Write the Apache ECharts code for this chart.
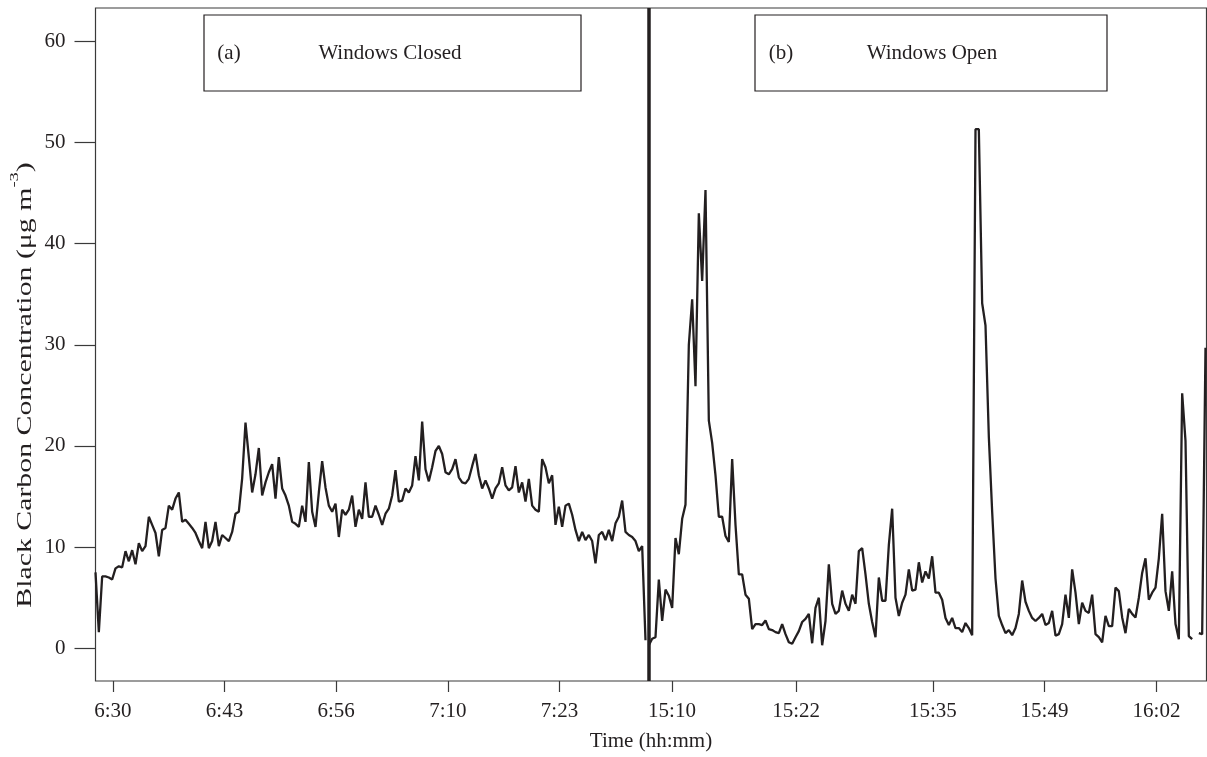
<!DOCTYPE html>
<html>
<head>
<meta charset="utf-8">
<script src="https://cdn.jsdelivr.net/npm/echarts@6/dist/echarts.min.js"></script>
<style>
html,body{margin:0;padding:0;background:#fff;}
#chart{width:1207px;height:757px;}
</style>
</head>
<body>
<div id="chart"></div>
<script>
// Black carbon concentration (µg m-3), one value per sample
const closedBC = [
7.5,1.6,7.1,7.1,7.0,6.8,7.9,8.1,8.0,9.6,
8.6,9.7,8.3,10.4,9.6,10.1,13.0,12.2,11.4,9.1,
11.7,11.9,14.1,13.7,14.8,15.4,12.5,12.7,12.3,11.9,
11.4,10.6,9.9,12.5,9.9,10.6,12.5,10.1,11.2,10.9,
10.6,11.5,13.3,13.5,16.8,22.3,18.9,15.4,17.2,19.8,
15.1,16.4,17.4,18.2,14.8,18.9,15.8,15.1,14.1,12.5,
12.3,12.0,14.1,12.5,18.4,13.5,12.0,15.4,18.5,15.9,
14.1,13.5,14.3,11.0,13.7,13.2,13.7,15.1,12.0,13.7,
12.8,16.4,13.0,13.0,14.1,13.2,12.2,13.3,13.8,15.1,
17.6,14.5,14.6,15.8,15.4,16.1,19.0,16.6,22.4,17.7,
16.5,17.9,19.5,20.0,19.2,17.4,17.2,17.7,18.7,16.9,
16.4,16.3,16.75,18.0,19.2,17.1,15.8,16.6,15.8,14.8,
15.8,16.3,17.9,16.1,15.6,15.9,18.0,15.4,16.4,14.5,
16.75,14.1,13.7,13.5,18.7,17.9,16.3,17.1,12.2,14.0,
12.0,14.1,14.3,13.2,11.7,10.6,11.5,10.7,11.2,10.6,
8.4,11.2,11.5,10.7,11.7,10.6,12.35,13.0,14.6,11.5,
11.2,11.0,10.6,9.6,10.1,0.8
];
const openBC = [
0.3,0.95,1.1,6.8,2.7,5.8,5.2,4.0,10.9,9.3,
12.8,14.2,30.0,34.5,25.9,43.0,36.3,45.3,22.5,20.3,
17.1,13.0,13.0,11.1,10.5,18.7,12.2,7.3,7.3,5.3,
4.9,1.9,2.4,2.4,2.3,2.75,1.9,1.8,1.6,1.5,
2.4,1.4,0.6,0.45,1.1,1.7,2.6,2.9,3.4,0.5,
4.0,5.0,0.3,2.7,8.3,4.4,3.4,3.7,5.7,4.4,
3.7,5.3,4.4,9.6,9.9,7.3,4.4,2.6,1.1,7.0,
4.7,4.7,10.2,13.8,5.0,3.2,4.5,5.3,7.8,5.7,
5.8,8.5,6.5,7.6,6.9,9.1,5.5,5.5,4.8,3.0,
2.3,3.0,2.0,2.0,1.6,2.5,2.0,1.3,51.3,51.3,
34.1,31.9,20.9,13.5,6.9,3.2,2.3,1.5,1.8,1.3,
2.0,3.4,6.7,4.6,3.7,3.0,2.7,3.0,3.4,2.3,
2.5,3.7,1.25,1.4,2.4,5.3,3.0,7.8,5.5,2.4,
4.5,3.7,3.5,5.3,1.4,1.1,0.6,3.2,2.2,2.2,
6.0,5.65,3.05,1.5,3.9,3.4,3.05,5.0,7.45,8.9,
4.8,5.5,6.0,8.9,13.3,5.65,3.7,7.6,2.4,0.9,
25.2,20.5,1.2,0.9,null,1.5,1.4,29.7
];
const openStart = closedBC.length;           // first sample index of panel (b)
const panelBreak = 165.9;                      // sample position of the divider
// x tick positions (sample index) and labels
const xTickPos = [5.2, 38.7, 72.2, 105.7, 139.2, 172.95, 210.2, 251.2, 284.7, 318.3];
const xTickLabels = ['6:30','6:43','6:56','7:10','7:23','15:10','15:22','15:35','15:49','16:02'];
const yTicks = [0, 10, 20, 30, 40, 50, 60];

const FONT = '"Liberation Serif", "Times New Roman", serif';
const INK = '#231f20';

const chart = echarts.init(document.getElementById('chart'), null, {renderer: 'canvas'});
chart.setOption({
  animation: false,
  backgroundColor: '#fff',
  grid: {left: 95.5, right: 0.5, top: 8, bottom: 69.5, show: true, borderColor: '#3a3a3a', borderWidth: 1.2, backgroundColor: 'transparent'},
  xAxis: {
    type: 'value', min: 0, max: 333.3,
    name: 'Time (hh:mm)', nameLocation: 'middle', nameGap: 50,
    nameTextStyle: {fontFamily: FONT, fontSize: 21, color: INK},
    axisLine: {show: false, onZero: false},
    splitLine: {show: false},
    axisTick: {show: true, inside: false, length: 11, customValues: xTickPos, lineStyle: {color: '#3a3a3a', width: 1.2}},
    axisLabel: {
      show: true, margin: 20, customValues: xTickPos,
      fontFamily: FONT, fontSize: 21, color: INK,
      formatter: function (v) {
        const k = xTickPos.findIndex(p => Math.abs(p - v) < 0.01);
        return k >= 0 ? xTickLabels[k] : '';
      }
    }
  },
  yAxis: {
    type: 'value', min: -3.23, max: 63.28,
    axisLine: {show: false, onZero: false},
    splitLine: {show: false},
    axisTick: {show: true, inside: false, length: 21, customValues: yTicks, lineStyle: {color: '#3a3a3a', width: 1.2}},
    axisLabel: {show: true, margin: 30, customValues: yTicks, fontFamily: FONT, fontSize: 21, color: INK}
  },
  series: [
    {
      name: 'Windows Closed', type: 'line', showSymbol: false, silent: true,
      data: closedBC.map((v, i) => [i, v]),
      lineStyle: {color: INK, width: 2.3},
      markLine: {
        silent: true, symbol: ['none', 'none'], label: {show: false},
        lineStyle: {color: INK, width: 3.5, type: 'solid'},
        data: [{xAxis: panelBreak}]
      }
    },
    {
      name: 'Windows Open', type: 'line', showSymbol: false, silent: true, connectNulls: false,
      data: openBC.map((v, i) => [openStart + i, v]),
      lineStyle: {color: INK, width: 2.3}
    }
  ],
  graphic: [
    {type: 'text', silent: true, x: 22, y: 385, rotation: Math.PI / 2, scaleX: 1.42, scaleY: 1,
      style: {
        text: '{a|Black Carbon Concentration (μg m}{s|-3}{a|)}',
        align: 'center', verticalAlign: 'middle',
        rich: {
          a: {fontFamily: FONT, fontSize: 21, fill: INK, color: INK, lineHeight: 27, verticalAlign: 'bottom'},
          s: {fontFamily: FONT, fontSize: 13, fill: INK, color: INK, lineHeight: 27, verticalAlign: 'top'}
        }
      }},
    {type: 'rect', silent: true, shape: {x: 204, y: 15, width: 377, height: 76}, style: {fill: '#fff', stroke: INK, lineWidth: 1.2}},
    {type: 'text', silent: true, style: {text: '(a)', x: 229, y: 53, align: 'center', verticalAlign: 'middle', fontFamily: FONT, fontSize: 21, fill: INK}},
    {type: 'text', silent: true, style: {text: 'Windows Closed', x: 390, y: 53, align: 'center', verticalAlign: 'middle', fontFamily: FONT, fontSize: 21, fill: INK}},
    {type: 'rect', silent: true, shape: {x: 755, y: 15, width: 352, height: 76}, style: {fill: '#fff', stroke: INK, lineWidth: 1.2}},
    {type: 'text', silent: true, style: {text: '(b)', x: 781, y: 53, align: 'center', verticalAlign: 'middle', fontFamily: FONT, fontSize: 21, fill: INK}},
    {type: 'text', silent: true, style: {text: 'Windows Open', x: 932, y: 53, align: 'center', verticalAlign: 'middle', fontFamily: FONT, fontSize: 21, fill: INK}}
  ]
});
</script>
</body>
</html>
